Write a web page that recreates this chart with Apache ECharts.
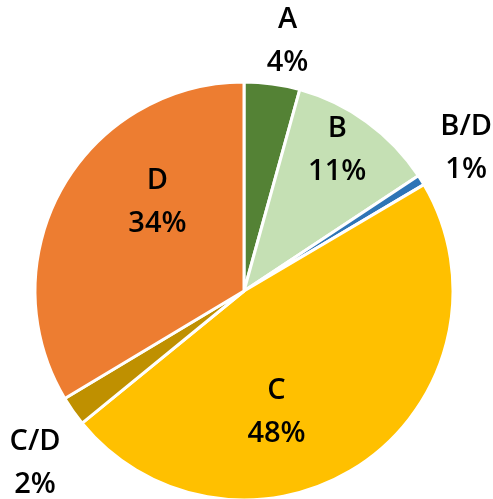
<!DOCTYPE html>
<html>
<head>
<meta charset="utf-8">
<script src="https://cdn.jsdelivr.net/npm/echarts@6/dist/echarts.min.js"></script>
<style>
	html, body { margin: 0; padding: 0; background: #ffffff; }
	#pieChart { width: 493px; height: 499px; }
</style>
</head>
<body>
<div id="pieChart"></div>
<script>

var categories = ['A', 'B', 'B/D', 'C', 'C/D', 'D'];
var shares = [4.3, 11.4, 0.8, 47.6, 2.3, 33.6];
var colors = ['#548235', '#C5E0B4', '#2E75B6', '#FFC000', '#BF9000', '#ED7D31'];

// nudge each label from its default inside spot to where the original sits
var labelOffsets = [[29, -143], [30, -54], [131, -86], [-29, 33], [-121, 110], [7, -36]];


function showPieChart() {

	var myChart = echarts.init(document.getElementById('pieChart'));

	var data = categories.map(function (name, i) {
		return { value: shares[i], name: name, itemStyle: { color: colors[i] } };
	});

	var option = {
		backgroundColor: '#ffffff',
		animation: false,
		series : [
			{
				type: 'pie',
				center: [244, 291],
				radius: [0, 209],
				startAngle: 90,
				clockwise: true,
				percentPrecision: 0,
				avoidLabelOverlap: false,
				itemStyle: {
					borderColor: '#ffffff',
					borderWidth: 3
				},
				label : {
					show : true,
					position : 'inside',
					formatter: '{b}\n{d}%',
					color: '#000000',
					fontFamily: 'Open Sans',
					fontWeight: 600,
					fontSize: 29,
					lineHeight: 43
				},
				labelLine: { show: false },
				labelLayout: function (params) {
					var off = labelOffsets[params.dataIndex];
					return { dx: off[0], dy: off[1] };
				},
				emphasis : { disabled: true },
				data: data
			}
		]
	};

	// show the Chart
	myChart.setOption(option);
}

showPieChart();
</script>
</body>
</html>
